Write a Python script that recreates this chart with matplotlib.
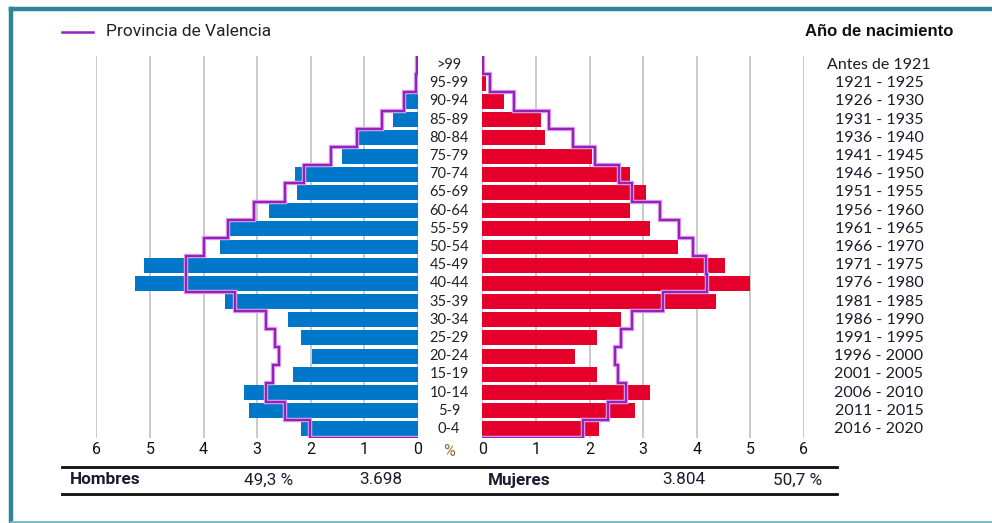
import numpy as np
import matplotlib
matplotlib.use("Agg")
import matplotlib.pyplot as plt
import matplotlib.patheffects as pe
from matplotlib.lines import Line2D
from matplotlib.transforms import blended_transform_factory

# age groups, bottom (0-4) to top (>99)
ages = ['0-4', '5-9', '10-14', '15-19', '20-24', '25-29', '30-34', '35-39',
        '40-44', '45-49', '50-54', '55-59', '60-64', '65-69', '70-74',
        '75-79', '80-84', '85-89', '90-94', '95-99', '>99']
years = ['2016 - 2020', '2011 - 2015', '2006 - 2010', '2001 - 2005',
         '1996 - 2000', '1991 - 1995', '1986 - 1990', '1981 - 1985',
         '1976 - 1980', '1971 - 1975', '1966 - 1970', '1961 - 1965',
         '1956 - 1960', '1951 - 1955', '1946 - 1950', '1941 - 1945',
         '1936 - 1940', '1931 - 1935', '1926 - 1930', '1921 - 1925',
         'Antes de 1921']

men = [2.18, 3.16, 3.24, 2.34, 1.97, 2.18, 2.43, 3.60, 5.28, 5.11, 3.69,
       3.53, 2.77, 2.26, 2.30, 1.42, 1.11, 0.47, 0.24, 0.04, 0.01]
women = [2.17, 2.84, 3.12, 2.13, 1.72, 2.13, 2.58, 4.35, 5.00, 4.53, 3.65,
         3.12, 2.76, 3.05, 2.76, 2.05, 1.17, 1.09, 0.40, 0.07, 0.01]
men_prov = [2.01, 2.48, 2.83, 2.71, 2.59, 2.67, 2.83, 3.41, 4.33, 4.33, 3.99,
            3.54, 3.06, 2.48, 2.13, 1.62, 1.13, 0.68, 0.26, 0.04, 0.02]
women_prov = [1.88, 2.34, 2.68, 2.53, 2.47, 2.59, 2.80, 3.37, 4.20, 4.17, 3.93,
              3.67, 3.31, 2.79, 2.55, 2.11, 1.69, 1.24, 0.59, 0.15, 0.02]
ticks = [0, 1, 2, 3, 4, 5, 6]

W, H = 992, 523
BLUE = '#0077c8'
RED = '#e4002b'
PURPLE = '#9a1fbf'
GRID = '#c6c6c6'
TXT = '#1b1b33'


def box(x0, y0, x1, y1):
    return [x0 / W, 1 - y1 / H, (x1 - x0) / W, (y1 - y0) / H]


def fx(x):
    return x / W


def fy(y):
    return 1 - y / H


fig = plt.figure(figsize=(W / 100, H / 100), dpi=100)

ax_l = fig.add_axes(box(96.3, 56, 418, 438))
ax_r = fig.add_axes(box(482.3, 56, 804, 438))

y = np.arange(len(ages))
edges = np.column_stack([y - 0.5, y + 0.5]).ravel()


def step_line(ax, vals):
    xs = np.concatenate([[0], np.repeat(vals, 2)])
    ys = np.concatenate([[-0.5], edges])
    ax.plot(xs, ys, color=PURPLE, lw=1.7, zorder=4, solid_joinstyle='miter',
            path_effects=[pe.Stroke(linewidth=3.2, foreground='#dcb0ea'), pe.Normal()])


for ax, vals, prov, col in [(ax_l, men, men_prov, BLUE), (ax_r, women, women_prov, RED)]:
    ax.barh(y, vals, height=0.82, color=col, zorder=3)
    step_line(ax, prov)
    ax.set_ylim(-0.5, len(ages) - 0.5)
    ax.set_xticks(ticks)
    ax.set_xticklabels([str(t) for t in ticks], fontsize=11.5, family='Roboto', color='#111111')
    ax.xaxis.grid(True, color=GRID, lw=1.3, zorder=0)
    ax.set_axisbelow(True)
    ax.tick_params(axis='x', length=0, pad=3)
    ax.tick_params(axis='y', left=False, labelleft=False)
    for s in ax.spines.values():
        s.set_visible(False)

ax_l.set_xlim(6, 0)
ax_r.set_xlim(0, 6)

# age labels and birth-year labels
tr = blended_transform_factory(fig.transFigure, ax_r.transData)
for i in range(len(ages)):
    ax_r.text(fx(449), i, ages[i], transform=tr, ha='center', va='center',
              fontsize=10.5, family='Lato', color='#222222', clip_on=False)
    ax_r.text(fx(879), i, years[i], transform=tr, ha='center', va='center',
              fontsize=11.5, family='Lato', color='#1a1a2a', clip_on=False)

fig.text(fx(449), fy(451), '%', ha='center', va='center', fontsize=11.5,
         family='Roboto', color='#9a6a30')

fig.text(fx(805), fy(32), 'Año de nacimiento', ha='left', va='center',
         fontsize=12, family='Liberation Sans', weight='bold', color='#111111')

# legend
fig.add_artist(Line2D([fx(62), fx(93)], [fy(32), fy(32)], color=PURPLE, lw=1.8))
fig.text(fx(106), fy(32), 'Provincia de Valencia', ha='left', va='center',
         fontsize=12.5, family='Roboto', color='#222222')

# bottom summary table
for yy in (466.5, 494):
    fig.add_artist(Line2D([fx(62), fx(837)], [fy(yy + 1.2), fy(yy + 1.2)], color='#9a9a9a', lw=1.2))
    fig.add_artist(Line2D([fx(62), fx(837)], [fy(yy), fy(yy)], color='#111111', lw=2.0))

row_y = fy(480)
fs = 12.3
fig.text(fx(70), row_y, 'Hombres', ha='left', va='center', fontsize=fs,
         family='Roboto', weight='bold', color=TXT)
fig.text(fx(293), row_y, '49,3 %', ha='right', va='center', fontsize=fs,
         family='Roboto', color=TXT)
fig.text(fx(402), row_y, '3.698', ha='right', va='center', fontsize=fs,
         family='Roboto', color=TXT)
fig.text(fx(488), row_y, 'Mujeres', ha='left', va='center', fontsize=fs,
         family='Roboto', weight='bold', color=TXT)
fig.text(fx(705), row_y, '3.804', ha='right', va='center', fontsize=fs,
         family='Roboto', color=TXT)
fig.text(fx(822), row_y, '50,7 %', ha='right', va='center', fontsize=fs,
         family='Roboto', color=TXT)

# frame
FRAME = '#2e8597'
fig.add_artist(Line2D([fx(10.5), 1], [fy(8.5), fy(8.5)], color=FRAME, lw=3.2))
fig.add_artist(Line2D([fx(10.5), fx(10.5)], [fy(8.5), fy(522)], color=FRAME, lw=3.2))
fig.add_artist(Line2D([fx(10.5), 1], [fy(521.5), fy(521.5)], color='#7fb5c5', lw=2))

fig.savefig('out.png', dpi=100)
